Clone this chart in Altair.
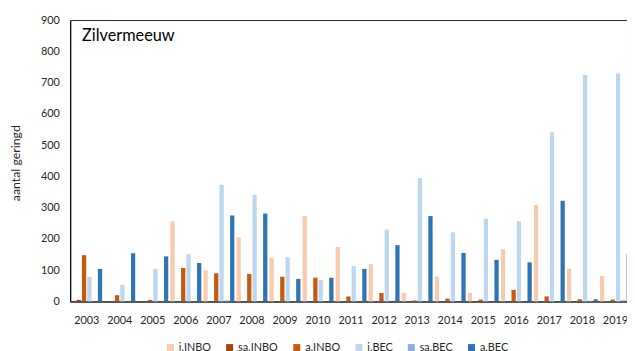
import altair as alt
import pandas as pd

years = [str(y) for y in range(2003, 2020)]
series = ["j.INBO", "sa.INBO", "a.INBO", "j.BEC", "sa.BEC", "a.BEC"]
colors = ["#f8cbad", "#9e480e", "#c55a11", "#bdd7ee", "#8faadc", "#2e75b6"]

j_inbo = [0, 0, 0, 256, 99, 205, 139, 273, 174, 119, 27, 80, 27, 167, 309, 104, 82]
sa_inbo = [5, 0, 0, 0, 0, 0, 0, 0, 0, 0, 0, 0, 0, 0, 0, 0, 0]
a_inbo = [148, 20, 5, 107, 90, 88, 79, 76, 16, 27, 3, 9, 6, 37, 16, 7, 6]
j_bec = [78, 53, 104, 152, 373, 341, 141, 68, 113, 230, 394, 221, 265, 256, 541, 724, 729]
sa_bec = [0, 0, 0, 0, 3, 0, 0, 0, 0, 0, 0, 0, 0, 0, 0, 2, 4]
a_bec = [104, 154, 144, 123, 275, 281, 72, 76, 104, 180, 273, 155, 133, 125, 322, 7, 151]

values = [j_inbo, sa_inbo, a_inbo, j_bec, sa_bec, a_bec]
rows = []
for s, vals in zip(series, values):
    for y, v in zip(years, vals):
        rows.append({"jaar": y, "reeks": s, "aantal": v})
df = pd.DataFrame(rows)

FONT = "Lato"

bars = alt.Chart(df).mark_bar().encode(
    x=alt.X(
        "jaar:N",
        sort=years,
        scale=alt.Scale(range=[0, 569], paddingInner=0, paddingOuter=0),
        axis=alt.Axis(
            title=None, labelAngle=0, ticks=False, labelPadding=13,
            labelFontSize=11, labelColor="#262626",
            domainColor="#404040", domainWidth=1.5,
        ),
    ),
    xOffset=alt.XOffset(
        "reeks:N", sort=series,
        scale=alt.Scale(paddingInner=0.2, paddingOuter=0.2),
    ),
    y=alt.Y(
        "aantal:Q",
        scale=alt.Scale(domain=[0, 900], nice=False),
        axis=alt.Axis(
            values=list(range(0, 901, 100)), title="aantal geringd",
            ticks=False, grid=False, labelPadding=11,
            labelFontSize=11, labelColor="#262626",
            domainColor="#000000", domainWidth=1,
            titleFontSize=12.5, titleFontWeight="normal", titleColor="#262626",
            titleX=-55, titleY=144.5, titleBaseline="middle",
        ),
    ),
    color=alt.Color(
        "reeks:N",
        sort=series,
        scale=alt.Scale(domain=series, range=colors),
        legend=alt.Legend(
            title=None, orient="none", direction="horizontal",
            legendX=96, legendY=326, symbolType="square", symbolSize=50,
            symbolStrokeWidth=0, labelFontSize=11, labelColor="#262626",
            labelOffset=3, columnPadding=13,
        ),
    ),
)

title_df = pd.DataFrame({"t": ["Zilvermeeuw"]})
label = alt.Chart(title_df).mark_text(
    align="left", baseline="middle", fontSize=16.5, font=FONT, color="#000000"
).encode(x=alt.value(12), y=alt.value(16), text="t:N")

chart = alt.layer(bars, label).properties(
    width=564,
    height=285,
    autosize=alt.AutoSizeParams(type="none"),
    padding={"left": 63, "top": 10, "right": 0, "bottom": 48},
).configure(font=FONT).configure_view(stroke="#262626", strokeWidth=1)

chart.save("out.html", embed_options={"renderer": "svg", "actions": False})
